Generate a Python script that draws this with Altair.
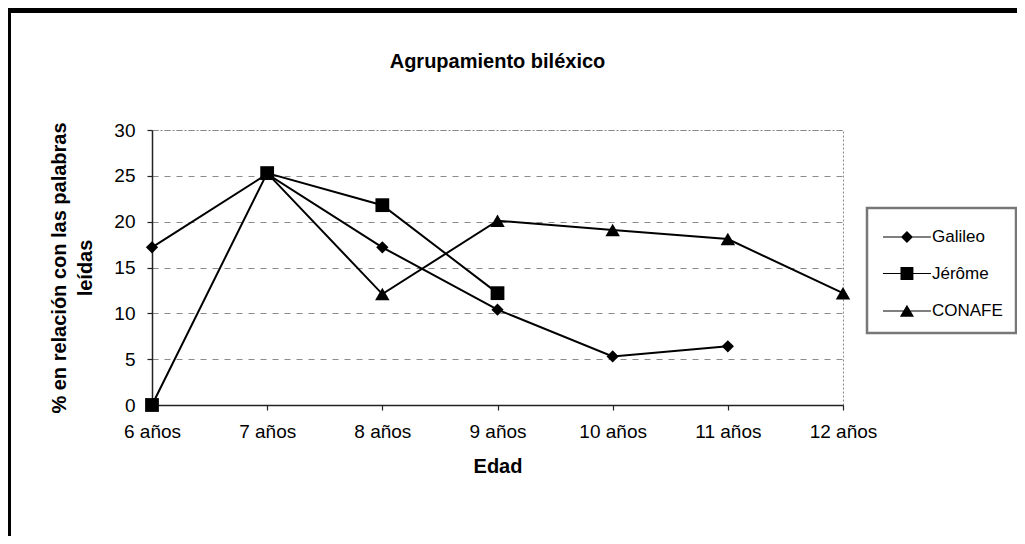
import altair as alt
import pandas as pd

ages = ["6 años", "7 años", "8 años", "9 años", "10 años", "11 años", "12 años"]
series = ["Galileo", "Jérôme", "CONAFE"]
galileo = [17.2, 25.2, 17.2, 10.4, 5.3, 6.4, None]
jerome = [0.0, 25.3, 21.8, 12.2, None, None, None]
conafe = [None, 25.3, 12.1, 20.1, 19.1, 18.1, 12.2]
plot_shapes = ["diamond", "square", "triangle-up"]
plot_sizes = [150, 190, 210]
# legend glyphs: thin line with the marker in its middle (unit = 15 px)
legend_shapes = [
    "M-0.87,-0.04L2.33,-0.04L2.33,0.04L-0.87,0.04Z"
    "M0.33,0L0.73,-0.4L1.13,0L0.73,0.4Z",
    "M-0.87,-0.04L2.33,-0.04L2.33,0.04L-0.87,0.04Z"
    "M0.3,-0.43L1.16,-0.43L1.16,0.43L0.3,0.43Z",
    "M-0.87,-0.04L2.33,-0.04L2.33,0.04L-0.87,0.04Z"
    "M0.73,-0.42L1.2,0.38L0.26,0.38Z",
]

rows = []
for name, vals in zip(series, [galileo, jerome, conafe]):
    for a, v in zip(ages, vals):
        if v is not None:
            rows.append({"Edad": a, "valor": v, "serie": name})
df = pd.DataFrame(rows)

FONT = "Liberation Sans"

x_enc = alt.X("Edad:N", sort=ages,
              scale=alt.Scale(type="point", domain=ages, padding=0),
              axis=alt.Axis(title="Edad", labelAngle=0, grid=False,
                            labelFontSize=19, titleFontSize=20, labelPadding=12,
                            titlePadding=15, tickSize=5))
y_enc = alt.Y("valor:Q", scale=alt.Scale(domain=[0, 30], nice=False),
              axis=alt.Axis(title=["% en relación con las palabras", "leídas"],
                            values=[0, 5, 10, 15, 20, 25, 30], labelFontSize=19,
                            titleFontSize=20, titleLineHeight=26, labelPadding=12,
                            tickSize=5, titlePadding=18,
                            gridDash=[6, 6], gridColor="#8a8a8a", gridWidth=1))

base = alt.Chart(df)

lines = base.mark_line(color="black", strokeWidth=2).encode(
    x=x_enc, y=y_enc, detail="serie:N")

point_layers = []
for name, shp, sz in zip(series, plot_shapes, plot_sizes):
    point_layers.append(
        base.transform_filter(alt.datum.serie == name)
        .mark_point(filled=True, color="black", opacity=1, shape=shp, size=sz)
        .encode(x=x_enc, y=y_enc)
    )

legend_layer = base.mark_point(filled=True, color="black", opacity=0).encode(
    x=x_enc, y=y_enc,
    shape=alt.Shape("serie:N", scale=alt.Scale(domain=series, range=legend_shapes),
                    legend=alt.Legend(title=None, orient="none", legendX=715, legendY=78,
                                      symbolSize=900, symbolOpacity=1,
                                      symbolFillColor="black", labelFontSize=17,
                                      labelFont=FONT, labelOffset=20, padding=13,
                                      rowPadding=11.5, strokeColor="#777777",
                                      fillColor="white")),
)

frame_top = alt.Chart(pd.DataFrame({"k": [0]})).mark_rule(color="black", strokeWidth=5).encode(
    x=alt.value(-146), x2=alt.value(873), y=alt.value(-119.5))
frame_left = alt.Chart(pd.DataFrame({"k": [0]})).mark_rule(color="black", strokeWidth=5).encode(
    x=alt.value(-143.5), y=alt.value(-122), y2=alt.value(414))

chart = alt.layer(lines, *point_layers, legend_layer, frame_top, frame_left).properties(
    width=691, height=275,
    title=alt.TitleParams("Agrupamiento biléxico", fontSize=20, font=FONT,
                          fontWeight="bold", anchor="middle", frame="group",
                          offset=-66, color="black"),
    autosize=alt.AutoSizeParams(type="none"),
    padding={"left": 144, "top": 122, "right": 174, "bottom": 131},
).configure_view(
    stroke="#8a8a8a", strokeDash=[2, 2], strokeWidth=1
).configure_axis(
    labelFont=FONT, titleFont=FONT, labelColor="black", titleColor="black",
    titleFontWeight="bold", domainColor="#222222", domainWidth=1.5,
    tickColor="#222222", tickWidth=1.2
).configure_legend(
    strokeWidth=2.5
)

chart.save("out.html", embed_options={"renderer": "svg", "actions": False})
